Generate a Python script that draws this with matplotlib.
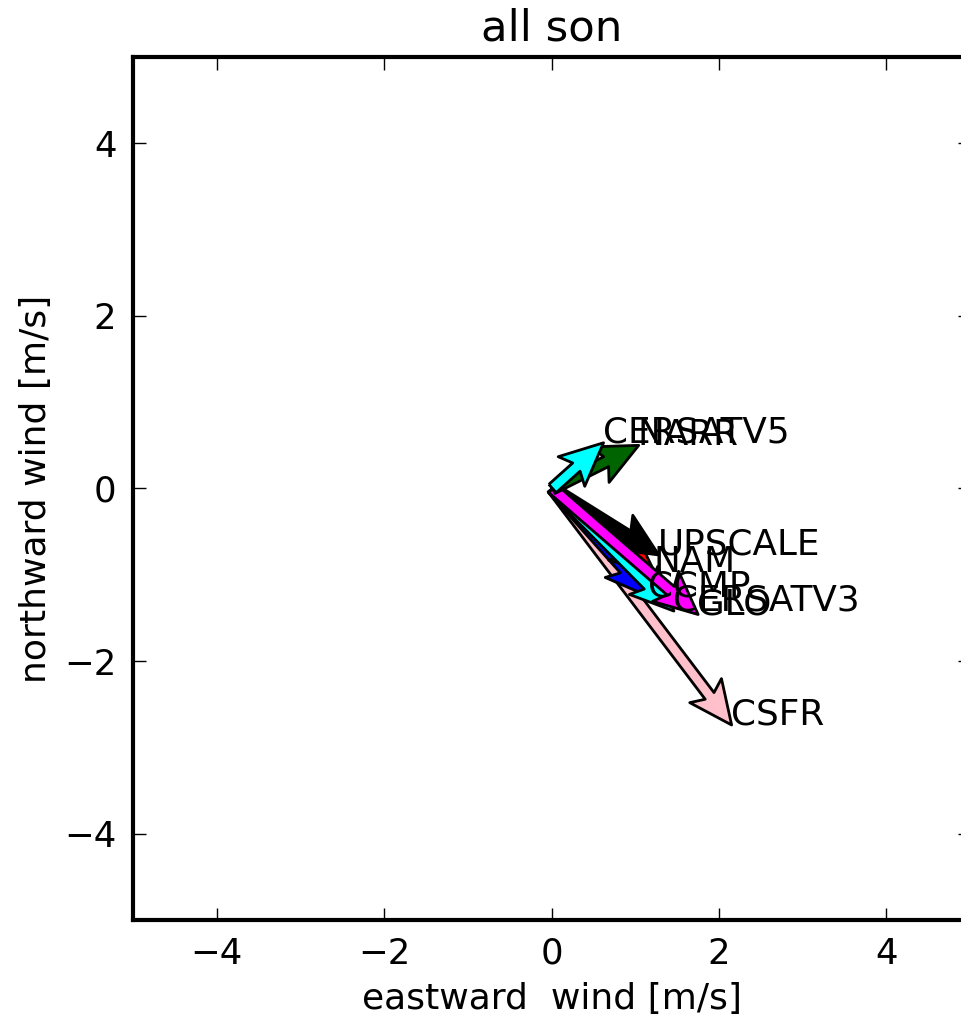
import matplotlib
matplotlib.use("Agg")
import matplotlib.pyplot as plt
import numpy as np

# mean wind vectors (u east, v north) per product
names = ['CSFR', 'CCMP', 'NAM', 'UPSCALE', 'CERSATV3', 'GLO', 'NARR', 'CERSATV5']
u_mean = [2.14, 1.15, 1.22, 1.27, 1.45, 1.74, 1.03, 0.61]
v_mean = [-2.74, -1.25, -0.97, -0.77, -1.42, -1.46, 0.50, 0.53]
colors = ['pink', 'blue', 'red', 'black', 'cyan', 'magenta', 'darkgreen', 'cyan']

plt.rcParams['font.family'] = 'DejaVu Sans'
plt.rcParams['font.size'] = 13

fig = plt.figure(figsize=(4.805, 5.095), dpi=200)
ax = fig.add_axes([0.1384, 0.0972, 0.871, 0.847])

for i in range(len(names)):
    ax.quiver(0, 0, u_mean[i], v_mean[i], color=colors[i], angles='xy',
              scale_units='xy', scale=1, units='xy', width=0.13,
              headwidth=3.6, headlength=3.9, headaxislength=3.3,
              edgecolor='k', linewidth=1.0)
    ax.text(u_mean[i], v_mean[i], names[i], fontsize=12.9)

ax.set_xlim(-5, 5)
ax.set_ylim(-5, 5)
ax.set_xticks([-4, -2, 0, 2, 4])
ax.set_yticks([-4, -2, 0, 2, 4])
ax.tick_params(direction='in', length=4.5, width=0.5, top=True, right=True, labelsize=12.8, pad=6)
for s in ax.spines.values():
    s.set_linewidth(1.5)
ax.set_xlabel('eastward  wind [m/s]', fontsize=13)
ax.set_ylabel('northward wind [m/s]', fontsize=13)
ax.set_title('all son', fontsize=15.6)

fig.savefig('out.png', dpi=200, facecolor='white')
